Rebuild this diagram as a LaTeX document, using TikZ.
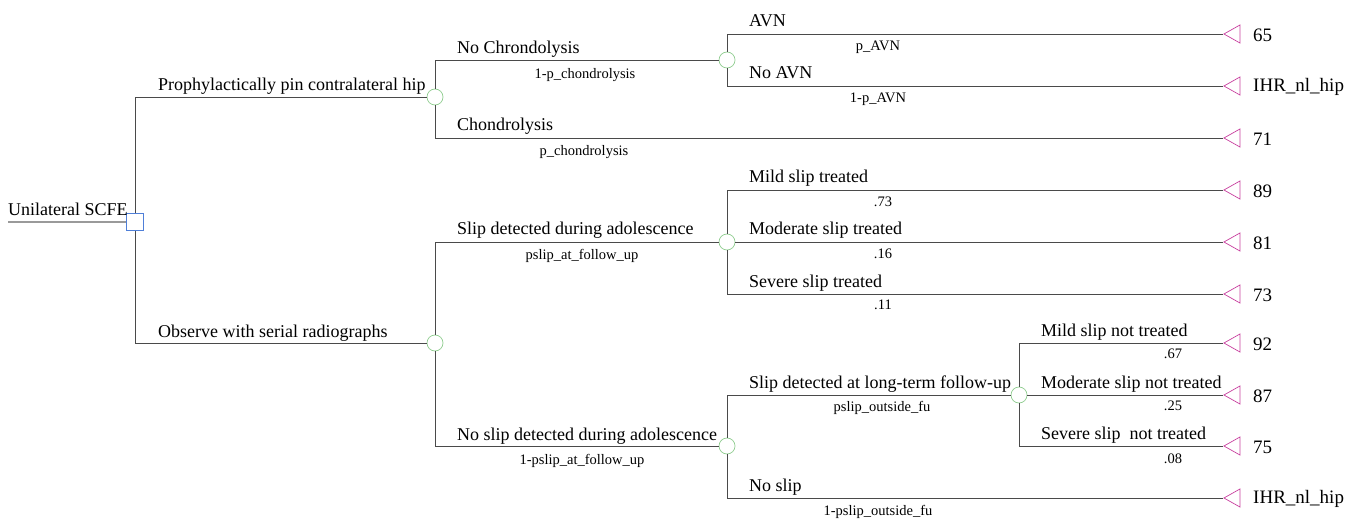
\documentclass[tikz,border=0pt]{standalone}
\usepackage{fontspec}
\setmainfont{Liberation Serif}
\usetikzlibrary{shapes.geometric}
\definecolor{linegray}{HTML}{4A4A4A}
\definecolor{rootgray}{HTML}{9A9A9A}
\definecolor{chancegreen}{HTML}{8FCC8F}
\definecolor{decblue}{HTML}{4F7FD8}
\definecolor{termmag}{HTML}{C8409F}
\begin{document}
\begin{tikzpicture}[x=1pt,y=-1pt,
  edge/.style={draw=linegray, line width=0.8pt},
  rootedge/.style={draw=rootgray, line width=1.4pt},
  chance/.style={circle, draw=chancegreen, minimum size=16pt, inner sep=0pt, line width=0.7pt},
  decision/.style={rectangle, draw=decblue, minimum size=17pt, inner sep=0pt, line width=0.7pt},
  term/.style={isosceles triangle, shape border rotate=180, draw=termmag, isosceles triangle stretches,
    minimum width=18pt, minimum height=16pt, inner sep=0pt, anchor=apex, line width=0.7pt},
  bname/.style={anchor=base west, font=\fontsize{18}{20}\selectfont, inner sep=0pt},
  prob/.style={anchor=north, font=\fontsize{14.5}{16}\selectfont, inner sep=0pt},
  val/.style={anchor=west, font=\fontsize{19}{21}\selectfont, inner sep=0pt}]
\useasboundingbox (0,0) rectangle (1356,521);
% nodes
\coordinate (root) at (8,222);
\node[decision] (D) at (135,222) {};
\node[chance] (C1) at (435,97) {};
\node[chance] (C2) at (727,60) {};
\node[chance] (C3) at (727,242) {};
\node[chance] (C4) at (435,343) {};
\node[chance] (C5) at (727,446) {};
\node[chance] (C6) at (1019,395) {};
\node[term] (T1) at (1223,34) {};
\node[term] (T2) at (1223,86) {};
\node[term] (T3) at (1223,138) {};
\node[term] (T4) at (1223,190) {};
\node[term] (T5) at (1223,242) {};
\node[term] (T6) at (1223,294) {};
\node[term] (T7) at (1223,343) {};
\node[term] (T8) at (1223,395) {};
\node[term] (T9) at (1223,446) {};
\node[term] (T10) at (1223,498) {};
% connectors
\draw[rootedge] (root) -- (D.west);
\draw[edge] (D.north) |- (C1.west);
\draw[edge] (D.south) |- (C4.west);
\draw[edge] (C1.north) |- (C2.west);
\draw[edge] (C1.south) |- (T3.apex);
\draw[edge] (C2.north) |- (T1.apex);
\draw[edge] (C2.south) |- (T2.apex);
\draw[edge] (C4.north) |- (C3.west);
\draw[edge] (C4.south) |- (C5.west);
\draw[edge] (C3.north) |- (T4.apex);
\draw[edge] (C3.east) -- (T5.apex);
\draw[edge] (C3.south) |- (T6.apex);
\draw[edge] (C5.north) |- (C6.west);
\draw[edge] (C5.south) |- (T10.apex);
\draw[edge] (C6.north) |- (T7.apex);
\draw[edge] (C6.east) -- (T8.apex);
\draw[edge] (C6.south) |- (T9.apex);
% branch names
\node[bname] (lroot) at (8,216) {Unilateral SCFE};
\node[bname] (l1) at (158,91) {Prophylactically pin contralateral hip};
\node[bname] (l2) at (158,337) {Observe with serial radiographs};
\node[bname] (l3) at (457,54) {No Chrondolysis};
\node[bname] (l4) at (457,131) {Chondrolysis};
\node[bname] (l5) at (749,27) {AVN};
\node[bname] (l6) at (749,79) {No AVN};
\node[bname] (l7) at (457,235) {Slip detected during adolescence};
\node[bname] (l8) at (457,440) {No slip detected during adolescence};
\node[bname] (l9) at (749,183) {Mild slip treated};
\node[bname] (l10) at (749,235) {Moderate slip treated};
\node[bname] (l11) at (749,287) {Severe slip treated};
\node[bname] (l12) at (749,388) {Slip detected at long-term follow-up};
\node[bname] (l13) at (749,491) {No slip};
\node[bname] (l14) at (1041,336) {Mild slip not treated};
\node[bname] (l15) at (1041,388) {Moderate slip not treated};
\node[bname] (l16) at (1041,439) {Severe slip~ not treated};
% probabilities
\node[prob] (p1) at (585,68) {1-p\_chondrolysis};
\node[prob] (p2) at (584,145) {p\_chondrolysis};
\node[prob] (p3) at (878,41) {p\_AVN};
\node[prob] (p4) at (878,93) {1-p\_AVN};
\node[prob] (p5) at (582,249) {pslip\_at\_follow\_up};
\node[prob] (p6) at (582,454) {1-pslip\_at\_follow\_up};
\node[prob] (p7) at (883,197) {.73};
\node[prob] (p8) at (883,249) {.16};
\node[prob] (p9) at (883,300) {.11};
\node[prob] (p10) at (882,401) {pslip\_outside\_fu};
\node[prob] (p11) at (878,505) {1-pslip\_outside\_fu};
\node[prob] (p12) at (1173,349) {.67};
\node[prob] (p13) at (1173,401) {.25};
\node[prob] (p14) at (1173,454) {.08};
% values
\node[val] (v1) at (1253,35) {65};
\node[val] (v2) at (1253,87) {IHR\_nl\_hip};
\node[val] (v3) at (1253,139) {71};
\node[val] (v4) at (1253,191) {89};
\node[val] (v5) at (1253,243) {81};
\node[val] (v6) at (1253,295) {73};
\node[val] (v7) at (1253,344) {92};
\node[val] (v8) at (1253,396) {87};
\node[val] (v9) at (1253,447) {75};
\node[val] (v10) at (1253,499) {IHR\_nl\_hip};
\end{tikzpicture}
\end{document}
